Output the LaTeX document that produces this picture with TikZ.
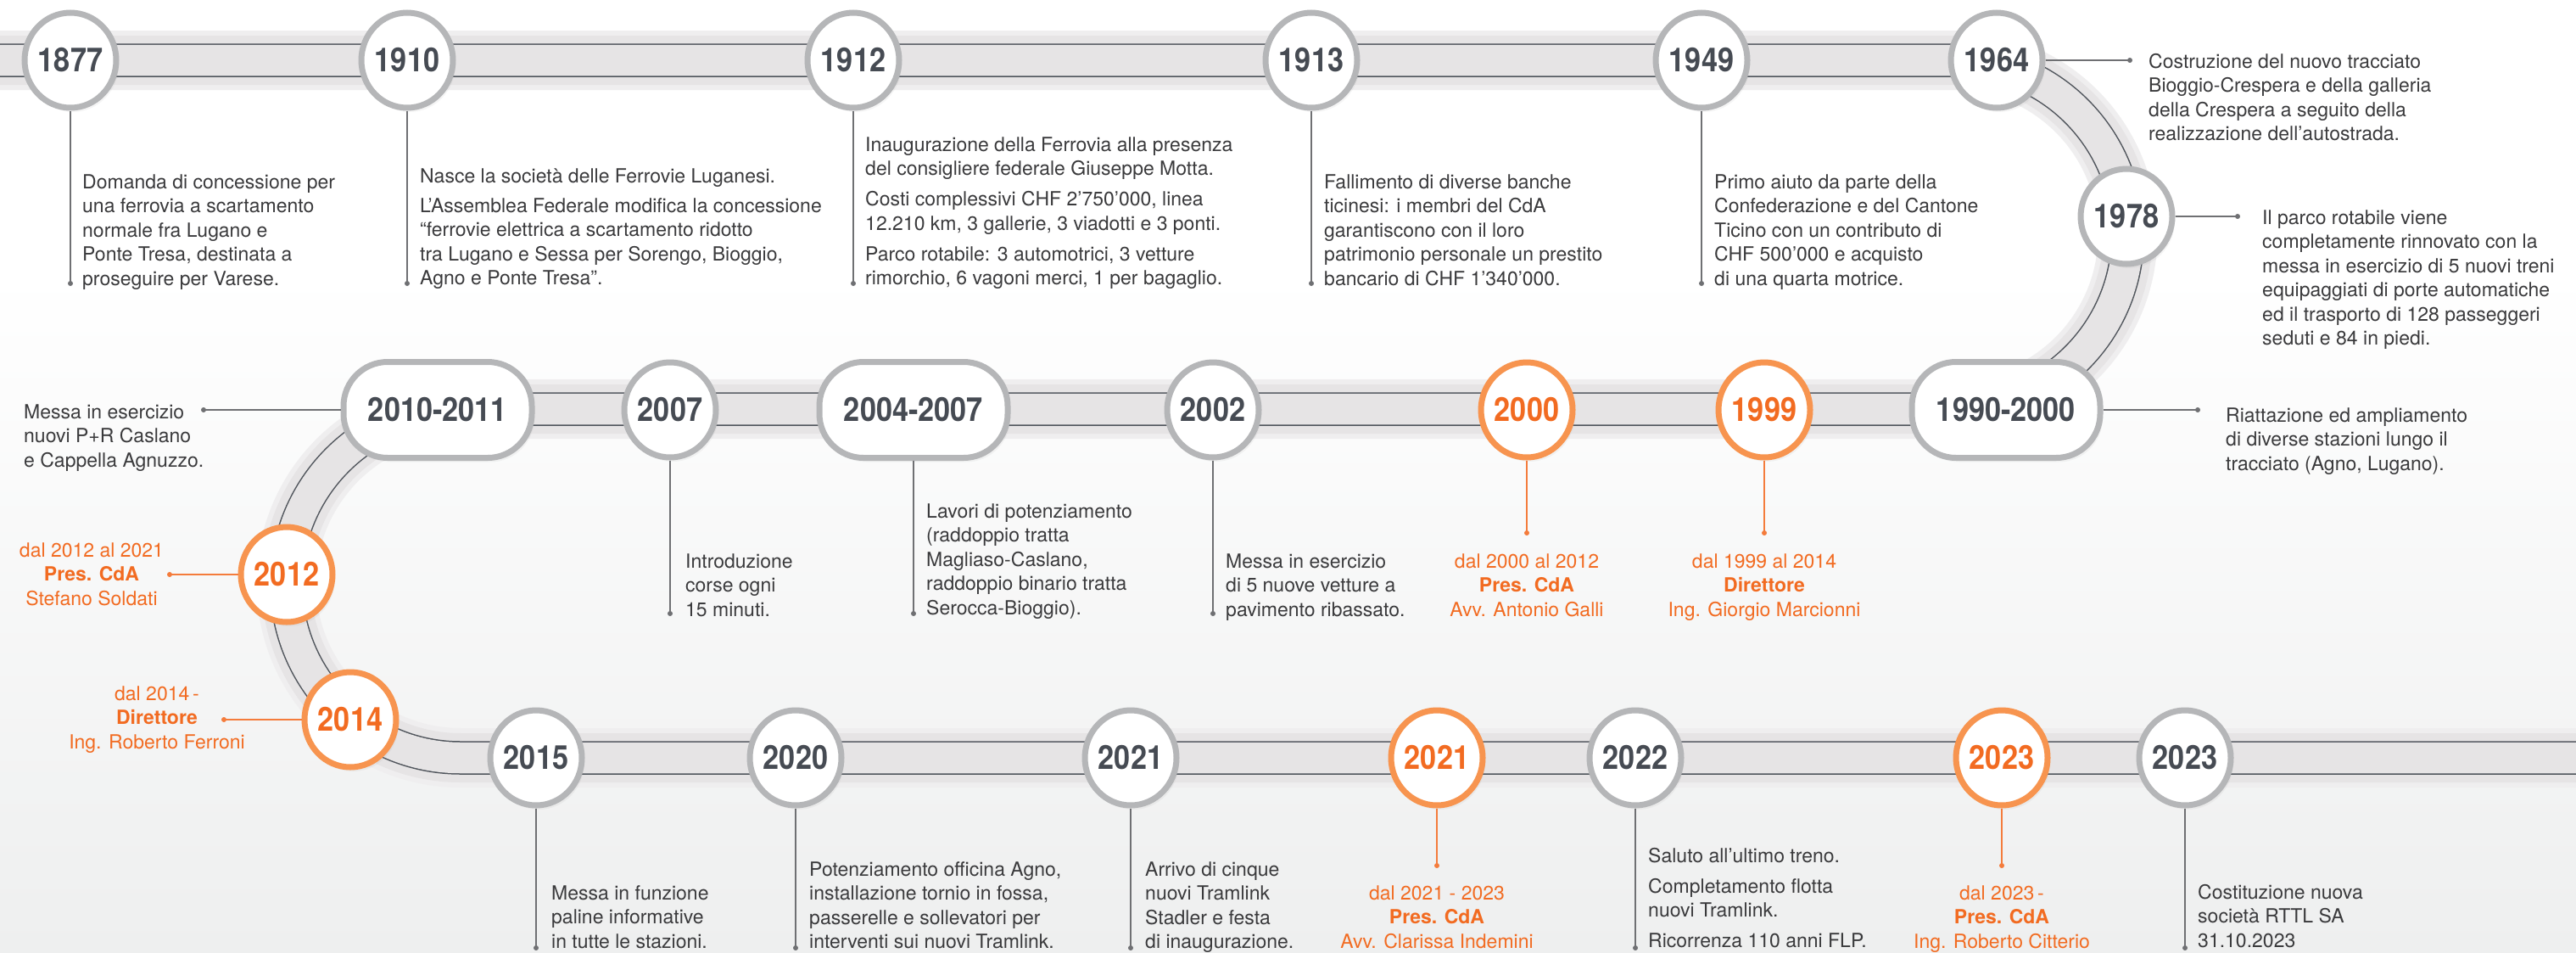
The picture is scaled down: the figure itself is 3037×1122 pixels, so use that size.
\documentclass[tikz,border=0pt]{standalone}
\usepackage{fontspec}
\setmainfont{TeX Gyre Heros}
\newfontfamily\yearfont{TeX Gyre Heros}[FakeStretch=0.88]
\usetikzlibrary{shapes.geometric,shadows}
\definecolor{bandc}{HTML}{E6E4E5}
\definecolor{haloc}{HTML}{EFEEEF}
\definecolor{railc}{HTML}{50555C}
\definecolor{ringg}{HTML}{B5B6B8}
\definecolor{ringo}{HTML}{F7944F}
\definecolor{yeartxt}{HTML}{464B53}
\definecolor{orangetxt}{HTML}{F26B21}
\definecolor{bodytxt}{HTML}{3A3A3C}
\definecolor{linkg}{HTML}{6F7073}
\definecolor{linko}{HTML}{F47C3C}
\definecolor{bgbot}{HTML}{EEEFEF}
\newcommand{\mystrut}{\rule{0pt}{18pt}}
\tikzset{
  yr/.style={ellipse, inner sep=0pt, minimum width=108pt, minimum height=112pt,
    line width=7pt, draw=ringg, fill=white, text=yeartxt,
    font=\yearfont\fontsize{39}{39}\selectfont\bfseries,
    drop shadow={shadow xshift=3pt, shadow yshift=-5pt, opacity=0.08}},
  yro/.style={yr, draw=ringo, text=orangetxt},
  pill/.style={rectangle, rounded corners=52pt, inner sep=0pt, minimum width=222pt,
    minimum height=113pt, line width=7pt, draw=ringg, fill=white, text=yeartxt,
    font=\yearfont\fontsize{39}{39}\selectfont\bfseries,
    drop shadow={shadow xshift=3pt, shadow yshift=-5pt, opacity=0.08}},
  body/.style={inner sep=0pt, anchor=north west, align=left, text=bodytxt,
    font=\fontsize{23}{28.5}\selectfont},
  obody/.style={inner sep=0pt, anchor=north, align=center, text=orangetxt,
    font=\fontsize{23}{28.5}\selectfont},
  lk/.style={draw=linkg, line width=1.4pt},
  lko/.style={draw=linko, line width=1.4pt},
}
\begin{document}
\begin{tikzpicture}[x=1pt, y=-1pt]
\useasboundingbox (0,0) rectangle (3037,1122);
\clip (0,0) rectangle (3037,1122);
\fill[white] (0,0) rectangle (3037,320);
\shade[top color=white, bottom color=bgbot] (0,320) rectangle (3037,1122);

% track
\draw[bandc, line width=58pt,
  preaction={draw=haloc, line width=70pt},
  postaction={draw=railc, line width=39.5pt},
  postaction={draw=bandc, line width=36.5pt}]
  (-30,71) -- (2303,71) arc[start angle=-90, end angle=90, radius=205.5]
  -- (543,482) arc[start angle=270, end angle=90, radius=205.5] -- (3080,893);

% coordinates for connector ends
\coordinate (c1877) at (83,334);
\coordinate (c1910) at (480,334);
\coordinate (c1912) at (1006,334);
\coordinate (c1913) at (1546,334);
\coordinate (c1949) at (2006,334);
\coordinate (c1964) at (2511,71);
\coordinate (c1978) at (2638,255);
\coordinate (c1990) at (2591,483);
\coordinate (c1999) at (2080,628);
\coordinate (c2000) at (1800,628);
\coordinate (c2002) at (1430,723);
\coordinate (c2004) at (1077,723);
\coordinate (c2007) at (790,723);
\coordinate (c2010) at (240,483);
\coordinate (c2012) at (200,677);
\coordinate (c2014) at (264,848);
\coordinate (c2015) at (632,1117);
\coordinate (c2020) at (938,1117);
\coordinate (c2021) at (1333,1117);
\coordinate (c2021b) at (1694,1020);
\coordinate (c2022) at (1928,1117);
\coordinate (c2023) at (2360,1020);
\coordinate (c2023b) at (2576,1117);

% year nodes
\node[yr] (y1877) at (83,71) {1877};
\node[yr] (y1910) at (480,71) {1910};
\node[yr] (y1912) at (1006,71) {1912};
\node[yr] (y1913) at (1546,71) {1913};
\node[yr] (y1949) at (2006,71) {1949};
\node[yr] (y1964) at (2354,71) {1964};
\node[yr] (y1978) at (2507,255) {1978};
\node[pill] (p1990) at (2365,483) {1990-2000};
\node[yro] (y1999) at (2080,483) {1999};
\node[yro] (y2000) at (1800,483) {2000};
\node[yr] (y2002) at (1430,483) {2002};
\node[pill] (p2004) at (1077,483) {2004-2007};
\node[yr] (y2007) at (790,483) {2007};
\node[pill] (p2010) at (516,483) {2010-2011};
\node[yro] (y2012) at (338,677) {2012};
\node[yro] (y2014) at (413,848) {2014};
\node[yr] (y2015) at (632,893) {2015};
\node[yr] (y2020) at (938,893) {2020};
\node[yr] (y2021) at (1333,893) {2021};
\node[yro] (y2021b) at (1694,893) {2021};
\node[yr] (y2022) at (1928,893) {2022};
\node[yro] (y2023) at (2360,893) {2023};
\node[yr] (y2023b) at (2576,893) {2023};

% connectors
\foreach \n in {1877,1910,1912,1913,1949,2002,2007,2015,2020,2021,2022}
  \draw[lk] (y\n.south) -- (c\n);
\draw[lk] (p2004.south) -- (c2004);
\draw[lk] (y2023b.south) -- (c2023b);
\draw[lk] (y1964.east) -- (c1964);
\draw[lk] (y1978.east) -- (c1978);
\draw[lk] (p1990.east) -- (c1990);
\draw[lk] (p2010.west) -- (c2010);
\draw[lko] (y2000.south) -- (c2000);
\draw[lko] (y1999.south) -- (c1999);
\draw[lko] (y2021b.south) -- (c2021b);
\draw[lko] (y2023.south) -- (c2023);
\draw[lko] (y2012.west) -- (c2012);
\draw[lko] (y2014.west) -- (c2014);
\foreach \c in {c1877,c1910,c1912,c1913,c1949,c1964,c1978,c1990,c2002,c2004,c2007,c2010,c2015,c2020,c2021,c2022,c2023b}
  \fill[linkg] (\c) circle[radius=3pt];
\foreach \c in {c1999,c2000,c2012,c2014,c2021b,c2023}
  \fill[linko] (\c) circle[radius=3pt];

% texts
\node[body] (t1877) at (97,204) {\mystrut Domanda di concessione per\\una ferrovia a scartamento\\normale fra Lugano e\\Ponte Tresa, destinata a\\proseguire per Varese.};
\node[body] (t1910) at (495,197) {\mystrut Nasce la società delle Ferrovie Luganesi.\\[6.5pt]L’Assemblea Federale modifica la concessione\\“ferrovie elettrica a scartamento ridotto\\tra Lugano e Sessa per Sorengo, Bioggio,\\Agno e Ponte Tresa”.};
\node[body] (t1912) at (1020,160) {\mystrut Inaugurazione della Ferrovia alla presenza\\del consigliere federale Giuseppe Motta.\\[7.5pt]Costi complessivi CHF 2’750’000, linea\\12.210 km, 3 gallerie, 3 viadotti e 3 ponti.\\[7.5pt]Parco rotabile: 3 automotrici, 3 vetture\\rimorchio, 6 vagoni merci, 1 per bagaglio.};
\node[body] (t1913) at (1561,204) {\mystrut Fallimento di diverse banche\\ticinesi: i membri del CdA\\garantiscono con il loro\\patrimonio personale un prestito\\bancario di CHF 1’340’000.};
\node[body] (t1949) at (2021,204) {\mystrut Primo aiuto da parte della\\Confederazione e del Cantone\\Ticino con un contributo di\\CHF 500’000 e acquisto\\di una quarta motrice.};
\node[body] (t1964) at (2533,62) {\mystrut Costruzione del nuovo tracciato\\Bioggio-Crespera e della galleria\\della Crespera a seguito della\\realizzazione dell’autostrada.};
\node[body] (t1978) at (2667,246) {\mystrut Il parco rotabile viene\\completamente rinnovato con la\\messa in esercizio di 5 nuovi treni\\equipaggiati di porte automatiche\\ed il trasporto di 128 passeggeri\\seduti e 84 in piedi.};
\node[body] (t1990) at (2624,479) {\mystrut Riattazione ed ampliamento\\di diverse stazioni lungo il\\tracciato (Agno, Lugano).};
\node[body] (t2010) at (28,475) {\mystrut Messa in esercizio\\nuovi P+R Caslano\\e Cappella Agnuzzo.};
\node[obody] (o2012) at (108,638) {\mystrut dal 2012 al 2021\\\textbf{Pres. CdA}\\Stefano Soldati};
\node[obody] (o2014) at (185,807) {\mystrut dal 2014\,-\\\textbf{Direttore}\\Ing. Roberto Ferroni};
\node[body] (t2007) at (808,651) {\mystrut Introduzione\\corse ogni\\15 minuti.};
\node[body] (t2004) at (1092,592) {\mystrut Lavori di potenziamento\\(raddoppio tratta\\Magliaso-Caslano,\\raddoppio binario tratta\\Serocca-Bioggio).};
\node[body] (t2002) at (1445,651) {\mystrut Messa in esercizio\\di 5 nuove vetture a\\pavimento ribassato.};
\node[obody] (o2000) at (1800,651) {\mystrut dal 2000 al 2012\\\textbf{Pres. CdA}\\Avv. Antonio Galli};
\node[obody] (o1999) at (2080,651) {\mystrut dal 1999 al 2014\\\textbf{Direttore}\\Ing. Giorgio Marcionni};
\node[body] (t2015) at (650,1042) {\mystrut Messa in funzione\\paline informative\\in tutte le stazioni.};
\node[body] (t2020) at (954,1014) {\mystrut Potenziamento officina Agno,\\installazione tornio in fossa,\\passerelle e sollevatori per\\interventi sui nuovi Tramlink.};
\node[body] (t2021) at (1350,1014) {\mystrut Arrivo di cinque\\nuovi Tramlink\\Stadler e festa\\di inaugurazione.};
\node[obody] (o2021) at (1694,1042) {\mystrut dal 2021 - 2023\\\textbf{Pres. CdA}\\Avv. Clarissa Indemini};
\node[body] (t2022) at (1943,998) {\mystrut Saluto all’ultimo treno.\\[7.5pt]Completamento flotta\\nuovi Tramlink.\\[7.5pt]Ricorrenza 110 anni FLP.};
\node[obody] (o2023) at (2360,1042) {\mystrut dal 2023\,-\\\textbf{Pres. CdA}\\Ing. Roberto Citterio};
\node[body] (t2023) at (2591,1041) {\mystrut Costituzione nuova\\società RTTL SA\\31.10.2023};
\end{tikzpicture}
\end{document}
